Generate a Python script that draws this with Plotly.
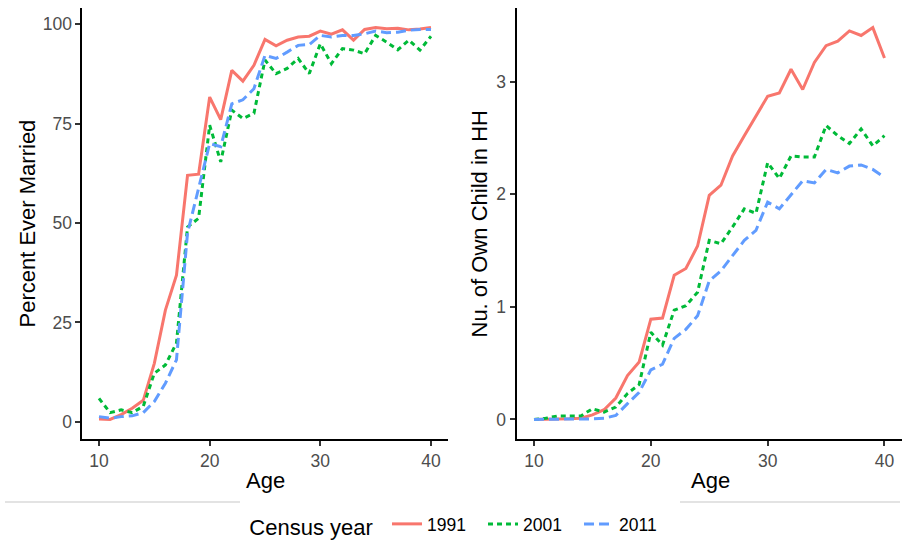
import plotly.graph_objects as go

ages = list(range(10, 41))

married_1991 = [0.7, 0.6, 1.8, 3.4, 5.4, 14.7, 28.1, 36.9, 62.0, 62.3, 81.7, 76.0, 88.4, 85.7, 89.7,
                96.2, 94.6, 96.0, 96.8, 97.0, 98.3, 97.5, 98.6, 96.0, 98.7, 99.2, 98.9, 99.0, 98.6, 98.8, 99.2]
married_2001 = [5.9, 2.3, 3.0, 2.3, 3.9, 12.2, 14.3, 19.8, 49.0, 51.2, 74.6, 65.4, 78.4, 76.3, 77.6,
                91.0, 87.6, 88.9, 91.4, 87.6, 95.1, 90.1, 93.9, 93.5, 92.6, 97.2, 95.5, 93.6, 96.0, 93.5, 97.0]
married_2011 = [1.3, 0.9, 1.3, 1.5, 2.3, 5.1, 9.7, 15.6, 47.5, 58.5, 70.0, 69.2, 80.0, 81.0, 83.8,
                92.2, 91.4, 93.0, 94.7, 94.9, 97.2, 96.8, 97.2, 97.2, 97.6, 98.3, 97.9, 98.0, 98.5, 98.7, 98.7]

child_1991 = [0.0, 0.0, 0.0, 0.005, 0.01, 0.04, 0.086, 0.19, 0.39, 0.51, 0.89, 0.90, 1.28, 1.34, 1.54,
              1.99, 2.08, 2.34, 2.52, 2.70, 2.87, 2.90, 3.11, 2.93, 3.17, 3.32, 3.36, 3.45, 3.41, 3.48, 3.21]
child_2001 = [0.0, 0.01, 0.03, 0.027, 0.03, 0.095, 0.065, 0.11, 0.23, 0.31, 0.775, 0.66, 0.97, 1.01, 1.13,
              1.59, 1.56, 1.71, 1.87, 1.83, 2.28, 2.14, 2.34, 2.33, 2.33, 2.61, 2.52, 2.45, 2.58, 2.43, 2.52]
child_2011 = [0.0, 0.0, 0.0, 0.0, 0.0, 0.005, 0.01, 0.035, 0.14, 0.24, 0.44, 0.49, 0.72, 0.80, 0.92,
              1.23, 1.32, 1.45, 1.59, 1.68, 1.93, 1.87, 2.00, 2.12, 2.10, 2.22, 2.19, 2.25, 2.26, 2.22, 2.15]

years = ["1991", "2001", "2011"]
colors = ["#F8766D", "#00BA38", "#619CFF"]
dashes = ["solid", "5px,4px", "10px,5px"]

W, H = 902, 545
FONT = "Liberation Sans, Arial, sans-serif"

fig = go.Figure()
left = [married_1991, married_2001, married_2011]
right = [child_1991, child_2001, child_2011]
for i, yr in enumerate(years):
    fig.add_trace(go.Scatter(x=ages, y=left[i], mode="lines", name=yr, legendgroup=yr,
                             line=dict(color=colors[i], width=3, dash=dashes[i]),
                             xaxis="x", yaxis="y", showlegend=True))
for i, yr in enumerate(years):
    fig.add_trace(go.Scatter(x=ages, y=right[i], mode="lines", name=yr, legendgroup=yr,
                             line=dict(color=colors[i], width=3, dash=dashes[i]),
                             xaxis="x2", yaxis="y2", showlegend=False))

ydom = [1 - 439 / H, 1 - 8 / H]
axcommon = dict(showgrid=False, zeroline=False, showline=True, linecolor="black", linewidth=2,
                ticks="outside", ticklen=5, tickwidth=1.5, tickcolor="#333333",
                tickfont=dict(family=FONT, size=17.5, color="#4D4D4D"), mirror=False)

fig.update_layout(
    width=W, height=H,
    margin=dict(l=0, r=0, t=0, b=0),
    paper_bgcolor="white", plot_bgcolor="white",
    xaxis=dict(domain=[82.4 / W, 447.6 / W], range=[8.5, 41.5], tickvals=[10, 20, 30, 40],
               anchor="y", **axcommon),
    yaxis=dict(domain=ydom, range=[-4.33, 104.1], tickvals=[0, 25, 50, 75, 100],
               anchor="x", **axcommon),
    xaxis2=dict(domain=[516.5 / W, 1.0], range=[8.5, 41.5], tickvals=[10, 20, 30, 40],
                anchor="y2", **axcommon),
    yaxis2=dict(domain=ydom, range=[-0.174, 3.654], tickvals=[0, 1, 2, 3],
                anchor="x2", **axcommon),
    showlegend=True,
    legend=dict(orientation="h", x=0.5115, xanchor="center", y=0.0, yanchor="bottom",
                bgcolor="rgba(255,255,255,0)",
                title=dict(text="Census year\u00a0", font=dict(family=FONT, size=22, color="black")),
                font=dict(family=FONT, size=17.5, color="black"),
                entrywidth=51, entrywidthmode="pixels"),
)

# axis titles
ann = [
    dict(text="Age", x=265 / W, y=1 - 480 / H, textangle=0),
    dict(text="Age", x=710 / W, y=1 - 480 / H, textangle=0),
    dict(text="Percent Ever Married", x=27 / W, y=1 - 223.5 / H, textangle=-90),
    dict(text="Nu. of Own Child in HH", x=479 / W, y=1 - 223.5 / H, textangle=-90),
]
for a in ann:
    fig.add_annotation(text=a["text"], x=a["x"], y=a["y"], xref="paper", yref="paper",
                       xanchor="center", yanchor="middle", showarrow=False, textangle=a["textangle"],
                       font=dict(family=FONT, size=22, color="black"))

# thin gray separator line above legend
for x0, x1 in [(5, 240), (680, 900)]:
    fig.add_shape(type="line", xref="paper", yref="paper", x0=x0 / W, x1=x1 / W,
                  y0=1 - 502 / H, y1=1 - 502 / H, line=dict(color="#C8C8C8", width=1.2))

fig.write_html("out.html")
